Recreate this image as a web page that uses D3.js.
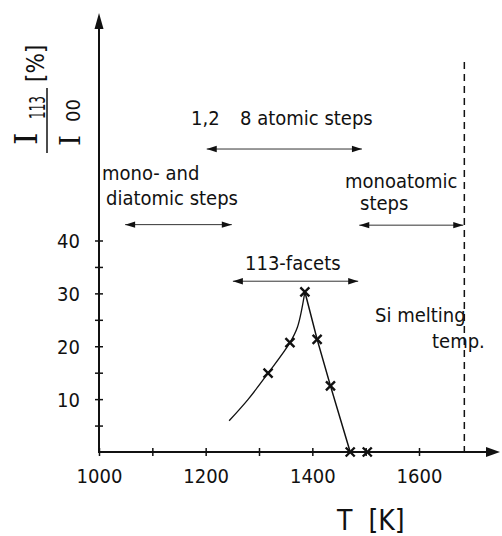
<!DOCTYPE html>
<html>
<head>
<meta charset="utf-8">
<script src="https://cdn.jsdelivr.net/npm/d3@7"></script>
<style>
body { margin: 0; background: #fff; }
text { font-family: "DejaVu Sans Condensed", "DejaVu Sans", sans-serif; fill: #111; }
</style>
</head>
<body>
<svg id="drawing_region"></svg>
<script>
// measured points (x marks)
const temps = [1317, 1358, 1386, 1409, 1434, 1471, 1503];
const intensities = [14.9, 20.7, 30.3, 21.3, 12.5, 0, 0];

// hand drawn fit lines
const leftFitT = [1244, 1280, 1317, 1358, 1372, 1386];
const leftFitI = [5.9, 10.0, 14.9, 20.7, 23.6, 30.3];
const rightFitT = [1386, 1409, 1434, 1471];
const rightFitI = [30.3, 21.3, 12.5, 0];

// ticks
const xTicks = [1000, 1100, 1200, 1300, 1400, 1500, 1600];
const xTickLabels = [1000, 1200, 1400, 1600];
const yTicks = [5, 10, 15, 20, 25, 30, 35, 40];
const yTickLabels = [10, 20, 30, 40];

// temperature ranges of the regimes (double arrows) and their heights
const rangeNames = ['1,2 8 atomic steps', 'mono- and diatomic steps', 'monoatomic steps', '113-facets'];
const rangeFrom = [1202, 1049, 1488, 1251];
const rangeTo = [1493, 1249, 1683, 1486];
const rangeLevel = [57.3, 43.0, 42.9, 32.3];

const meltingT = 1685;

class PeakChart {
    constructor(config) {
        this.config = config;
        this.init();
    }

    init() {
        let self = this;
        self.svg = d3.select(self.config.parent)
            .attr('width', self.config.width)
            .attr('height', self.config.height);

        self.xscale = d3.scaleLinear().domain([1000, 1600]).range([99, 419]);
        self.yscale = d3.scaleLinear().domain([0, 40]).range([452, 240.5]);
    }

    arrow(x1, x2, y, len, hw) {
        let self = this;
        self.svg.append('line')
            .attr('x1', x1).attr('x2', x2).attr('y1', y).attr('y2', y)
            .attr('stroke', '#333').attr('stroke-width', 1);
        self.svg.append('path')
            .attr('d', `M${x1},${y} L${x1 + len},${y - hw} L${x1 + len},${y + hw} Z`)
            .attr('fill', '#111');
        self.svg.append('path')
            .attr('d', `M${x2},${y} L${x2 - len},${y - hw} L${x2 - len},${y + hw} Z`)
            .attr('fill', '#111');
    }

    render() {
        let self = this;
        const x = self.xscale, y = self.yscale;
        const x0 = x(1000), y0 = y(0);

        // axes lines + arrow heads
        self.svg.append('line')
            .attr('x1', x0).attr('x2', 490).attr('y1', y0).attr('y2', y0)
            .attr('stroke', '#111').attr('stroke-width', 2);
        self.svg.append('path')
            .attr('d', `M500,${y0} L486,${y0 - 5} L486,${y0 + 5} Z`).attr('fill', '#111');
        self.svg.append('line')
            .attr('x1', x0).attr('x2', x0).attr('y1', y0 + 1).attr('y2', 25)
            .attr('stroke', '#111').attr('stroke-width', 2);
        self.svg.append('path')
            .attr('d', `M${x0},13 L${x0 - 4.5},29 L${x0 + 4.5},29 Z`).attr('fill', '#111');

        const xaxis = d3.axisBottom(x).tickValues(xTicks).tickSize(4)
            .tickFormat(d => xTickLabels.includes(d) ? d : '');
        const gx = self.svg.append('g')
            .attr('transform', `translate(0,${y0})`)
            .call(xaxis);
        gx.select('.domain').remove();
        gx.selectAll('.tick line').attr('y1', -4).attr('stroke', '#111').attr('stroke-width', 1.5);
        gx.selectAll('.tick text').attr('font-size', 20).attr('font-family', null)
            .attr('dy', null).attr('y', 31).attr('fill', '#111');

        const yaxis = d3.axisLeft(y).tickValues(yTicks).tickSize(4)
            .tickFormat(d => yTickLabels.includes(d) ? d : '');
        const gy = self.svg.append('g')
            .attr('transform', `translate(${x0},0)`)
            .call(yaxis);
        gy.select('.domain').remove();
        gy.selectAll('.tick line').attr('x1', 4).attr('stroke', '#111').attr('stroke-width', 1.5);
        gy.selectAll('.tick text').attr('font-size', 20).attr('font-family', null)
            .attr('x', -19).attr('dy', '0.36em').attr('fill', '#111');

        // melting temperature
        self.svg.append('line')
            .attr('x1', x(meltingT)).attr('x2', x(meltingT))
            .attr('y1', 62).attr('y2', y0)
            .attr('stroke', '#111').attr('stroke-width', 1.5)
            .attr('stroke-dasharray', '7,5');

        // fit lines
        self.svg.append('path')
            .attr('d', d3.line().x(d => x(d[0])).y(d => y(d[1]))
                .curve(d3.curveCatmullRom.alpha(0.5))(d3.zip(leftFitT, leftFitI)))
            .attr('fill', 'none').attr('stroke', '#111').attr('stroke-width', 1.3);
        self.svg.append('path')
            .attr('d', d3.line().x(d => x(d[0])).y(d => y(d[1]))(d3.zip(rightFitT, rightFitI)))
            .attr('fill', 'none').attr('stroke', '#111').attr('stroke-width', 1.5);

        // x markers
        const s = 4.5;
        self.svg.selectAll('.mark')
            .data(d3.zip(temps, intensities))
            .join('path')
            .attr('class', 'mark')
            .attr('d', d => {
                const px = x(d[0]), py = y(d[1]);
                return `M${px - s},${py - s}L${px + s},${py + s}M${px + s},${py - s}L${px - s},${py + s}`;
            })
            .attr('stroke', '#111').attr('stroke-width', 2.4);

        // regime arrows
        rangeFrom.forEach((d, i) => {
            self.arrow(x(d), x(rangeTo[i]), y(rangeLevel[i]), 10, 3.2);
        });

        // annotation texts
        const txt = (str, tx, ty, size) => self.svg.append('text')
            .attr('x', tx).attr('y', ty).attr('font-size', size || 20)
            .style('white-space', 'pre').text(str);
        txt('1,2', 191, 125);
        txt('8 atomic steps', 240, 125);
        txt('mono- and', 102, 180);
        txt('diatomic steps', 106, 205);
        txt('monoatomic', 345, 188);
        txt('steps', 360, 210);
        txt('113-facets', 245, 270);
        txt('Si melting', 375, 322);
        txt('temp.', 432, 348);
        txt('T  [K]', 337, 530, 28);

        // y label: I113 [%] / I00
        const rot = (str, tx, ty, size, fam) => self.svg.append('text')
            .attr('transform', `translate(${tx},${ty}) rotate(-90)`)
            .attr('font-size', size)
            .style('font-family', fam || null)
            .text(str);
        rot('I', 37, 145, 32, '"DejaVu Serif", serif');
        rot('113', 45, 119, 21).attr('textLength', 23).attr('lengthAdjust', 'spacingAndGlyphs');
        rot('[%]', 44, 82, 24);
        self.svg.append('line')
            .attr('x1', 47).attr('x2', 47).attr('y1', 88).attr('y2', 153)
            .attr('stroke', '#111').attr('stroke-width', 1.5);
        rot('I', 80, 146, 28, '"DejaVu Serif", serif');
        rot('00', 80, 122, 20);
    }
}

const chart = new PeakChart({ parent: '#drawing_region', width: 502, height: 536 });
chart.render();
</script>
</body>
</html>
